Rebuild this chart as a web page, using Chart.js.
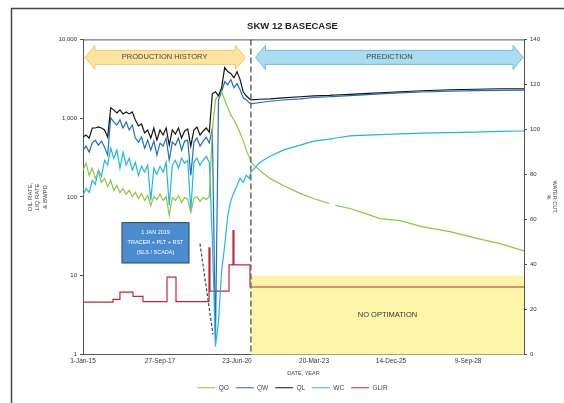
<!DOCTYPE html>
<html>
<head>
<meta charset="utf-8">
<script src="https://cdn.jsdelivr.net/npm/chart.js@4.4.1/dist/chart.umd.min.js"></script>
<style>
  html, body { margin: 0; padding: 0; background: #fff; }
  #wrap { width: 564px; height: 403px; }
</style>
</head>
<body>
<div id="wrap"><canvas id="chart" width="564" height="403"></canvas></div>
<script>
// days counted from 1-Jan-15
const xTickDays = [0, 1000, 2000, 3000, 4000, 5000];
const xTickLabels = ['1-Jan-15', '27-Sep-17', '23-Jun-20', '20-Mar-23', '14-Dec-25', '9-Sep-28'];
const rateTicks = [1, 10, 100, 1000, 10000];
const rateTickLabels = ['1', '10', '100', '1,000', '10,000'];
const splitDay = 2180;
const lastDay = 5727;

// production history
const histDays = [0, 40, 80, 120, 160, 200, 240, 280, 320, 360, 400, 440, 480, 520, 560, 600, 640, 680, 720, 760,
  800, 840, 880, 920, 960, 1000, 1040, 1080, 1120, 1160, 1200, 1240, 1280, 1320, 1360, 1400, 1440, 1480, 1520, 1560,
  1600, 1640, 1680, 1720, 1760, 1800, 1840, 1880, 1920, 1960, 2000, 2040, 2080, 2120, 2160];
const qoHist = [218, 268, 188, 231, 172, 206, 153, 172, 136, 163, 121, 140, 114, 128, 108, 121, 101, 114, 95.7, 111,
  90.2, 104.5, 77.9, 101, 92.9, 108, 90.2, 101, 58, 98.6, 90.2, 104.5, 85, 98.6, 92.9, 63.4, 95.7, 101, 87.7, 98.6,
  92.9, 101, 708, 1710, 1983, 2164, 1710, 1352, 1101, 950, 796, 648, 527, 393, 320];
const qwHist = [393, 442, 371, 483, 527, 455, 512, 429, 339, 1007, 896, 820, 950, 750, 896, 708, 820, 559, 497, 576,
  417, 527, 393, 512, 339, 483, 442, 559, 293, 497, 455, 559, 393, 512, 527, 188, 497, 559, 442, 512,
  576, 483, 750, 1.47, 1710, 2164, 2904, 2660, 3083, 2436, 2741, 2296, 1815, 1710, 1566];
const qlHist = [576, 611, 559, 750, 750, 773, 750, 708, 576, 1352, 1275, 1167, 1275, 1133, 1202, 1133, 1202, 950, 796, 845,
  648, 708, 559, 750, 527, 708, 611, 750, 455, 708, 629, 750, 559, 687, 729, 442, 708, 773, 611, 687,
  750, 667, 2042, 2164, 1923, 2436, 4387, 3899, 3674, 3268, 3899, 3083, 2164, 1923, 1762];
const wcHist = [70.7, 73.8, 72.0, 77.4, 75.6, 81.9, 79.2, 86.3, 84.1, 91.7, 87.2, 90.8, 82.8, 89.9, 84.1, 87.2, 81.9, 85.4, 79.6, 83.6,
  81.0, 84.1, 68.4, 82.8, 80.1, 83.6, 81.0, 85.4, 66.2, 84.1, 86.3, 82.8, 87.2, 85.0, 86.3, 64.0, 85.4, 87.2, 84.1, 86.3,
  88.1, 85.4, 50.5, 3.6, 14.8, 37.1, 48.3, 61.7, 68.4, 72.0, 75.1, 78.3, 76.5, 79.6, 78.3];

// prediction
const predDays = [2180, 2300, 2429, 2600, 2818, 3000, 3200, 3240, 3280, 3468, 3700, 3857, 4117, 4400, 4766, 5100, 5415, 5727];
const qoPred = [276, 215, 172, 140, 111, 95, 82.6, null, 78, 71.3, 60, 53.1, 50.1, 42, 36.3, 30, 25.5, 20.7];
const qwPred = [1521, 1580, 1640, 1700, 1760, 1830, 1870, 1880, 1890, 1930, 1990, 2030, 2090, 2150, 2210, 2240, 2260, 2270];
const qlPred = [1710, 1740, 1762, 1815, 1870, 1923, 1950, 1960, 1970, 2010, 2070, 2102, 2164, 2230, 2296, 2330, 2365, 2365];
const wcPred = [81.0, 85.4, 88.1, 90.8, 93.0, 94.8, 95.7, 95.9, 96.2, 97.1, 97.5, 97.7, 98.0, 98.4, 98.6, 98.8, 99.1, 99.3];

// gas lift
const glirDays = [0, 390, 480, 649, 779, 1091, 1208, 1636, 1649, 1896, 1940, 1948, 1960, 2169, 5727];
const glirRate = [23.3, 24.5, 27.7, 25.8, 23.5, 34.4, 23.5, 47.4, 28.2, 39.8, 39.8, 55, 39.8, 30, 30];

// dashed decline guide
const trendDays = [1519, 1688];
const trendRate = [25.5, 1.8];

const noOptTop = 35;

function pts(days, vals) {
  return days.map((d, i) => ({ x: d, y: vals[i] }));
}

Chart.defaults.font.family = '"Liberation Sans", Arial, sans-serif';
Chart.defaults.color = '#333';

function arrow(ctx, x1, x2, yc, bodyH, headH, headW, fill, stroke) {
  ctx.beginPath();
  ctx.moveTo(x1, yc);
  ctx.lineTo(x1 + headW, yc - headH / 2);
  ctx.lineTo(x1 + headW, yc - bodyH / 2);
  ctx.lineTo(x2 - headW, yc - bodyH / 2);
  ctx.lineTo(x2 - headW, yc - headH / 2);
  ctx.lineTo(x2, yc);
  ctx.lineTo(x2 - headW, yc + headH / 2);
  ctx.lineTo(x2 - headW, yc + bodyH / 2);
  ctx.lineTo(x1 + headW, yc + bodyH / 2);
  ctx.lineTo(x1 + headW, yc + headH / 2);
  ctx.closePath();
  ctx.fillStyle = fill;
  ctx.fill();
  ctx.strokeStyle = stroke;
  ctx.lineWidth = 1;
  ctx.stroke();
}

const decor = {
  id: 'decor',
  beforeDraw(chart) {
    const ctx = chart.ctx;
    ctx.save();
    ctx.strokeStyle = '#444';
    ctx.lineWidth = 1.5;
    ctx.beginPath();
    ctx.moveTo(11.5, 403);
    ctx.lineTo(11.5, 8.5);
    ctx.lineTo(564, 8.5);
    ctx.stroke();
    ctx.restore();
  },
  beforeDatasetsDraw(chart) {
    const { ctx, chartArea, scales } = chart;
    const x = scales.x, y1 = scales.y1;
    const xs = x.getPixelForValue(splitDay);
    const yt = y1.getPixelForValue(noOptTop);
    ctx.save();
    ctx.fillStyle = '#fcf4a6';
    ctx.fillRect(xs, yt, chartArea.right - xs, chartArea.bottom - yt);
    ctx.restore();
  },
  afterDatasetsDraw(chart) {
    const { ctx, chartArea, scales } = chart;
    const x = scales.x, y = scales.y, y1 = scales.y1;
    const xs = x.getPixelForValue(splitDay);
    ctx.save();
    // split line
    ctx.strokeStyle = '#6a6a6a';
    ctx.lineWidth = 1.5;
    ctx.setLineDash([6, 3]);
    ctx.beginPath();
    ctx.moveTo(xs, chartArea.top);
    ctx.lineTo(xs, chartArea.bottom);
    ctx.stroke();
    ctx.setLineDash([]);
    // top frame
    ctx.strokeStyle = '#555';
    ctx.lineWidth = 1;
    ctx.beginPath();
    ctx.moveTo(chartArea.left, chartArea.top + 0.5);
    ctx.lineTo(chartArea.right, chartArea.top + 0.5);
    ctx.stroke();
    // arrows
    const ya = chartArea.top + 18;
    arrow(ctx, x.getPixelForValue(25), x.getPixelForValue(2110), ya, 14, 24, 10, '#fee4a0', '#f3c766');
    arrow(ctx, x.getPixelForValue(2240), x.getPixelForValue(5715), ya, 14, 24, 10, '#a9dbf1', '#6cbde2');
    ctx.fillStyle = '#444';
    ctx.font = '7.5px "Liberation Sans", Arial, sans-serif';
    ctx.textAlign = 'center';
    ctx.textBaseline = 'middle';
    ctx.fillText('PRODUCTION HISTORY', x.getPixelForValue(1060), ya);
    ctx.fillText('PREDICTION', x.getPixelForValue(3980), ya);
    // note box
    const bx1 = x.getPixelForValue(506), bx2 = x.getPixelForValue(1377);
    const by1 = y.getPixelForValue(47.2), by2 = y.getPixelForValue(14.5);
    ctx.fillStyle = '#4b8bd0';
    ctx.fillRect(bx1, by1, bx2 - bx1, by2 - by1);
    ctx.strokeStyle = '#24456f';
    ctx.strokeRect(bx1, by1, bx2 - bx1, by2 - by1);
    ctx.fillStyle = '#fff';
    ctx.font = '5.5px "Liberation Sans", Arial, sans-serif';
    const bc = (bx1 + bx2) / 2, bm = (by1 + by2) / 2;
    ctx.fillText('1 JAN 2019', bc, bm - 10);
    ctx.fillText('TRACER + PLT + RST', bc, bm);
    ctx.fillText('(SLS / SCADA)', bc, bm + 10);
    // no optimisation label
    ctx.fillStyle = '#333';
    ctx.font = '7.5px "Liberation Sans", Arial, sans-serif';
    ctx.fillText('NO OPTIMATION', (xs + chartArea.right) / 2, y1.getPixelForValue(17.5));
    ctx.restore();
  }
};

const line = { pointRadius: 0, borderWidth: 1.2, tension: 0, fill: false, spanGaps: false };

new Chart(document.getElementById('chart'), {
  type: 'line',
  data: {
    datasets: [
      Object.assign({ label: 'QO', data: pts(histDays, qoHist).concat(pts(predDays, qoPred)),
        borderColor: '#8dc63f', yAxisID: 'y', order: 1 }, line),
      Object.assign({ label: 'QW', data: pts(histDays, qwHist).concat(pts(predDays, qwPred)),
        borderColor: '#1f6fbf', yAxisID: 'y', order: 3 }, line),
      Object.assign({ label: 'QL', data: pts(histDays, qlHist).concat(pts(predDays, qlPred)),
        borderColor: '#151515', yAxisID: 'y', order: 0 }, line),
      Object.assign({ label: 'WC', data: pts(histDays, wcHist).concat(pts(predDays, wcPred)),
        borderColor: '#22b4e8', yAxisID: 'y1', order: 2 }, line),
      Object.assign({ label: 'GLIR', data: pts(glirDays, glirRate), stepped: true,
        borderColor: '#c0283a', yAxisID: 'y1', order: 4 }, line),
      Object.assign({ label: 'trend', data: pts(trendDays, trendRate), borderDash: [3, 2],
        borderColor: '#444', yAxisID: 'y', order: 5 }, line)
    ]
  },
  options: {
    responsive: false,
    animation: false,
    layout: { padding: { top: 21, left: 27, right: 6, bottom: 2 } },
    plugins: {
      title: { display: true, text: 'SKW 12 BASECASE', font: { size: 9.5, weight: 'bold' }, color: '#222',
        padding: { top: 0, bottom: 7 } },
      legend: {
        position: 'bottom',
        labels: {
          usePointStyle: true, pointStyle: 'line', pointStyleWidth: 18, padding: 7,
          font: { size: 6.5 }, color: '#444',
          filter: item => item.text !== 'trend',
          sort: (a, b) => a.datasetIndex - b.datasetIndex
        }
      },
      tooltip: { enabled: false }
    },
    scales: {
      x: {
        type: 'linear', min: 0, max: lastDay,
        grid: { display: false, drawTicks: false },
        border: { color: '#555' },
        afterBuildTicks: s => { s.ticks = xTickDays.map(v => ({ value: v })); },
        afterFit: s => { s.height = 23; },
        ticks: { font: { size: 6.5 }, color: '#333', maxRotation: 0, padding: 3,
          callback: v => xTickLabels[xTickDays.indexOf(v)] },
        title: { display: true, text: 'DATE, YEAR', font: { size: 5.5 }, color: '#444', padding: 1 }
      },
      y: {
        type: 'logarithmic', position: 'left', min: 1, max: 10000,
        grid: { drawOnChartArea: false, tickLength: 3, color: '#555' },
        border: { color: '#555' },
        afterBuildTicks: s => { s.ticks = rateTicks.map(v => ({ value: v })); },
        afterFit: s => { s.width = 56; },
        ticks: { font: { size: 6 }, color: '#333', padding: 3,
          callback: v => rateTickLabels[rateTicks.indexOf(v)] },
        title: { display: true, text: ['OIL RATE,', 'LIQ RATE', '& BWPD'], font: { size: 6 }, color: '#444', padding: 0 }
      },
      y1: {
        type: 'linear', position: 'right', min: 0, max: 140,
        grid: { drawOnChartArea: false, tickLength: 3, color: '#555' },
        border: { color: '#555' },
        afterFit: s => { s.width = 34; },
        ticks: { stepSize: 20, font: { size: 6 }, color: '#333', padding: 3 },
        title: { display: true, text: ['WATER CUT,', '%'], font: { size: 5.5 }, color: '#444', padding: 0 }
      }
    }
  },
  plugins: [decor]
});
</script>
</body>
</html>
